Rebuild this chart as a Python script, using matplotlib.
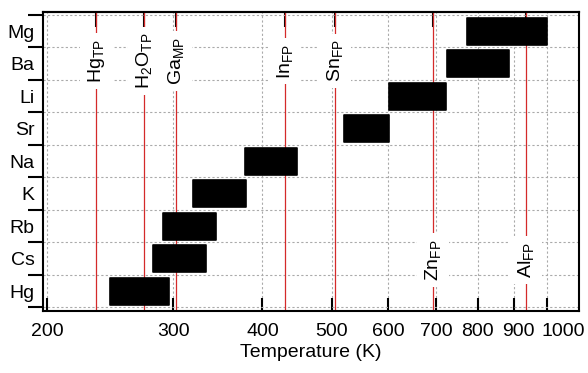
import numpy as np
import matplotlib
matplotlib.use("Agg")
import matplotlib.pyplot as plt
from matplotlib.ticker import FixedLocator, NullLocator, FixedFormatter
from matplotlib.transforms import ScaledTranslation

plt.rcParams['font.family'] = ['Liberation Sans', 'DejaVu Sans']
plt.rcParams['mathtext.fontset'] = 'custom'
plt.rcParams['mathtext.rm'] = 'Liberation Sans'
plt.rcParams['mathtext.it'] = 'Liberation Sans:italic'
plt.rcParams['mathtext.bf'] = 'Liberation Sans:bold'

# Data (top to bottom)
elements = ["Mg", "Ba", "Li", "Sr", "Na", "K", "Rb", "Cs", "Hg"]
t_low = [772, 724, 601, 520, 378, 320, 290, 281, 245]
t_high = [1000, 885, 722, 601, 447, 379, 345, 334, 296]

# Fixed points (K)
fp_labels = ["Hg$_{\\mathrm{TP}}$", "H$_2$O$_{\\mathrm{TP}}$", "Ga$_{\\mathrm{MP}}$",
             "In$_{\\mathrm{FP}}$", "Sn$_{\\mathrm{FP}}$", "Zn$_{\\mathrm{FP}}$", "Al$_{\\mathrm{FP}}$"]
fp_temps = [234.3156, 273.16, 302.9146, 429.7485, 505.078, 692.677, 933.473]
fp_top = [True, True, True, True, True, False, False]

xticks = [200, 300, 400, 500, 600, 700, 800, 900, 1000]

fig = plt.figure(figsize=(5.88, 3.73), dpi=100)
ax = fig.add_axes([0.0731, 0.167, 0.9116, 0.8016])
ax.set_xscale('log')
ax.set_xlim(197.4, 1108)
ax.set_ylim(len(elements) - 0.4, -0.6)

ypos = np.arange(len(elements))
widths = np.array(t_high) - np.array(t_low)
bars = ax.barh(ypos, widths, left=t_low, height=0.82, color='black',
               edgecolor='black', linewidth=1.2, zorder=4)
for b in bars:
    b.set_joinstyle('round')

red = '#d42a2a'
for t in fp_temps:
    ax.axvline(t, color=red, lw=0.9, zorder=2)

trans = matplotlib.transforms.blended_transform_factory(ax.transData, ax.transAxes)
for lab, t, top in zip(fp_labels, fp_temps, fp_top):
    ax.text(t, 0.835 if top else 0.170, lab, transform=trans, rotation=90,
            ha='center', va='center', fontsize=14, zorder=3,
            bbox=dict(boxstyle='square,pad=0.3', fc='white', ec='none'))

# x axis
ax.xaxis.set_major_locator(FixedLocator(xticks))
ax.xaxis.set_major_formatter(FixedFormatter([str(v) for v in xticks]))
ax.xaxis.set_minor_locator(NullLocator())
ax.tick_params(axis='x', which='major', direction='in', length=9.5, width=1.5,
               labelsize=14, pad=9)
ax.set_xlabel('Temperature (K)', fontsize=14, labelpad=3)

# shift the crowded last labels to the right, as in the reference
shifts = {900: 4, 1000: 16}
for tick_val, lbl in zip(xticks, ax.get_xticklabels()):
    if tick_val in shifts:
        lbl.set_transform(lbl.get_transform() +
                          ScaledTranslation(shifts[tick_val] / 100.0, 0, fig.dpi_scale_trans))

# y axis
ax.set_yticks(np.arange(len(elements) + 1) - 0.5)
ax.set_yticklabels([])
ax.set_yticks(ypos, minor=True)
ax.set_yticklabels(elements, minor=True)
ax.tick_params(axis='y', which='major', direction='out', length=10.5, width=1.5)
ax.tick_params(axis='y', which='minor', length=0, pad=6, labelsize=14)

# top ticks at fixed points
sec = ax.secondary_xaxis('top')
sec.set_xticks(fp_temps)
sec.set_xticklabels([])
sec.xaxis.set_minor_locator(NullLocator())
sec.tick_params(axis='x', which='major', direction='in', length=10.5, width=1.5)
for s in sec.spines.values():
    s.set_linewidth(1.5)

ax.grid(True, which='major', axis='both', color='#aaaaaa',
        linestyle=(0, (2, 2)), linewidth=0.8, zorder=1)
ax.set_axisbelow(True)
for s in ax.spines.values():
    s.set_linewidth(1.5)

fig.savefig('out.png', dpi=100)
